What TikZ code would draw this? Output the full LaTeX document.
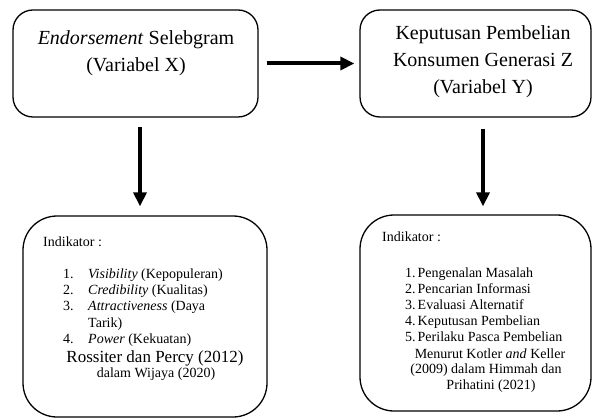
\documentclass[tikz,border=0pt]{standalone}
\usepackage{fontspec}
\setmainfont{Liberation Serif}
\usetikzlibrary{arrows.meta}
\newcommand\fz[2]{\fontsize{#1}{#2}\selectfont}
\begin{document}
\begin{tikzpicture}[x=1pt,y=-1pt,
  topbox/.style={draw, line width=1.3pt, rounded corners=20pt, inner sep=0pt},
  botbox/.style={draw, line width=1.3pt, rounded corners=34pt, inner sep=0pt},
  ttl/.style={anchor=base, font=\fz{20}{27}, inner sep=0pt},
  itm/.style={anchor=base west, font=\fz{14}{16}, inner sep=0pt},
  ctr/.style={anchor=base, font=\fz{14}{16}, inner sep=0pt},
  arr/.style={line width=4pt, -{Triangle[width=13pt,length=14pt]}}]
\useasboundingbox (0,0) rectangle (593,419);
% boxes
\node[topbox, minimum width=245pt, minimum height=107pt] (X) at (135.5,63.5) {};
\node[topbox, minimum width=231pt, minimum height=107pt] (Y) at (475.5,63.5) {};
\node[botbox, minimum width=244pt, minimum height=201pt] (L) at (145,316.5) {};
\node[botbox, minimum width=231pt, minimum height=196pt] (R) at (475.5,313) {};
% top texts
\node[ttl] (x1) at (136,45) {\textit{Endorsement} Selebgram};
\node[ttl] (x2) at (136,72) {(Variabel X)};
\node[ttl] (y1) at (483,40) {Keputusan Pembelian};
\node[ttl] (y2) at (483,67) {Konsumen Generasi Z};
\node[ttl] (y3) at (483,94) {(Variabel Y)};
% left indicators
\node[itm] (li) at (43,247) {Indikator :};
\node[itm] (ln1) at (63,278) {1.};
\node[itm] (lt1) at (88,278) {\textit{Visibility} (Kepopuleran)};
\node[itm] (ln2) at (63,294) {2.};
\node[itm] (lt2) at (88,294) {\textit{Credibility} (Kualitas)};
\node[itm] (ln3) at (63,310) {3.};
\node[itm] (lt3) at (88,310) {\textit{Attractiveness} (Daya};
\node[itm] (lt3b) at (88,327) {Tarik)};
\node[itm] (ln4) at (63,343) {4.};
\node[itm] (lt4) at (88,343) {\textit{Power} (Kekuatan)};
\node[anchor=base, font=\fz{17}{20}, inner sep=0pt] (lr) at (155,362) {Rossiter dan Percy (2012)};
\node[ctr] (lw) at (156,377) {dalam Wijaya (2020)};
% right indicators
\node[itm] (ri) at (382,242) {Indikator :};
\node[itm] (rn1) at (405,277) {1.};
\node[itm] (rt1) at (417.5,277) {Pengenalan Masalah};
\node[itm] (rn2) at (405,293) {2.};
\node[itm] (rt2) at (417.5,293) {Pencarian Informasi};
\node[itm] (rn3) at (405,309) {3.};
\node[itm] (rt3) at (417.5,309) {Evaluasi Alternatif};
\node[itm] (rn4) at (405,325) {4.};
\node[itm] (rt4) at (417.5,325) {Keputusan Pembelian};
\node[itm] (rn5) at (405,341) {5.};
\node[itm] (rt5) at (417.5,341) {Perilaku Pasca Pembelian};
\node[ctr] (rm1) at (490,358) {Menurut Kotler \textit{and} Keller};
\node[ctr] (rm2) at (486,373) {(2009) dalam Himmah dan};
\node[ctr] (rm3) at (491,389) {Prihatini (2021)};
% arrows
\draw[arr, shorten <=8pt, shorten >=5pt] (X.east) -- (Y.west);
\draw[arr, shorten <=9pt, shorten >=9pt] ([xshift=4.5pt]X.south) -- ([xshift=4.5pt]X.south |- L.north);
\draw[arr, shorten <=11pt, shorten >=8pt] ([xshift=7.5pt]Y.south) -- ([xshift=7.5pt]Y.south |- R.north);
\end{tikzpicture}
\end{document}
